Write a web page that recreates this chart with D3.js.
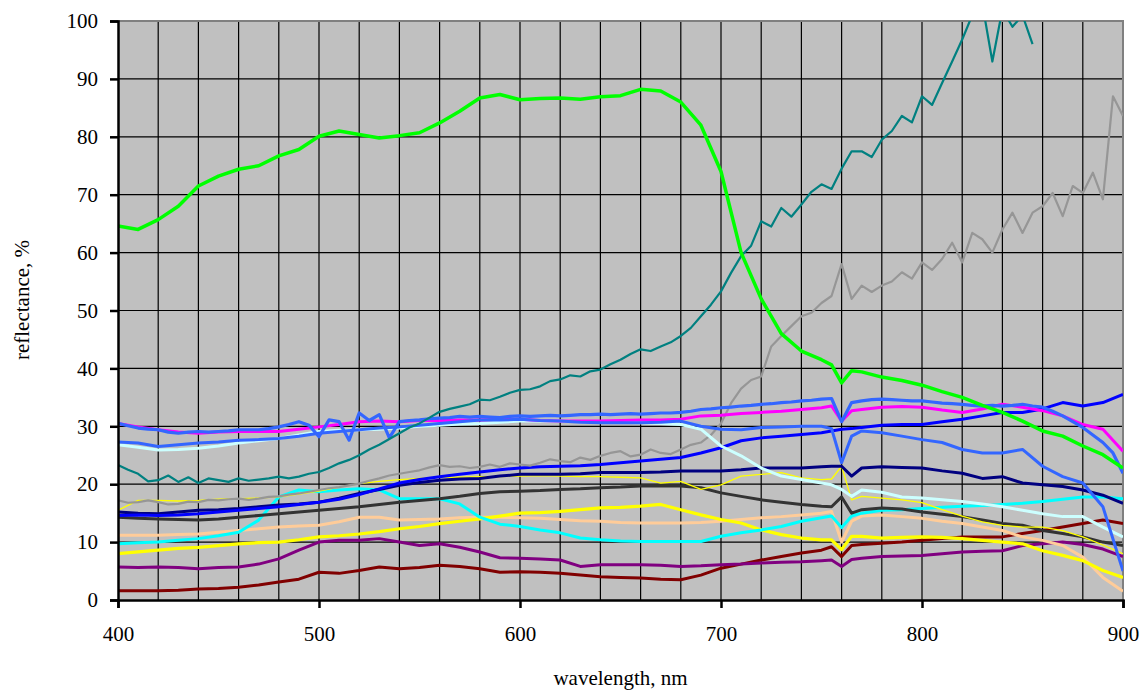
<!DOCTYPE html>
<html>
<head>
<meta charset="utf-8">
<script src="https://cdn.jsdelivr.net/npm/d3@7"></script>
<style>
  body { margin: 0; background: #fff; }
  text { font-family: "Liberation Serif", "Times New Roman", serif; fill: #000; }
</style>
</head>
<body>
<div id="chart"></div>
<script>
// wavelength grids (nm)
const wlMain = [400,410,420,430,440,450,460,470,480,490,500,510,520,530,540,550,560,570,580,590,
  600,610,620,630,640,650,660,670,680,690,700,710,720,730,740,750,755,760,765,
  770,780,790,800,810,820,830,840,850,860,870,880,890,900];
const wlFine = d3.range(400, 901, 5);

const xTicks = [400, 500, 600, 700, 800, 900];
const yTicks = [0, 10, 20, 30, 40, 50, 60, 70, 80, 90, 100];

// reflectance, %
const lime = [64.6,64,65.7,68,71.5,73.2,74.4,75,76.7,77.8,80.1,81,80.4,79.8,80.2,80.7,82.4,84.4,86.7,87.3,
  86.4,86.6,86.7,86.5,86.9,87.1,88.2,87.9,86,82,74,60,52,46,43,41.5,40.6,37.5,39.6,
  39.4,38.5,37.9,37.1,36,35,33.6,32.4,30.9,29.2,28.3,26.6,25.1,22.8];

const magenta = [30.5,29.9,29.4,29,28.8,29,29.1,29.1,29.1,29.5,29.9,30.3,30.8,30.9,30.8,31,31,31.1,31.1,31.2,
  31.2,31,30.9,30.9,30.9,31,31.1,31.1,31.2,31.8,31.9,32.2,32.4,32.6,32.9,33.2,33.5,30.9,32.7,
  32.9,33.3,33.4,33.3,32.8,32.4,33,33.8,33.3,32.7,31.8,30.3,29.5,25.7];

const royalB = [27.3,27.1,26.5,26.8,27.1,27.3,27.6,27.7,27.9,28.3,28.8,29.1,29.4,29.7,29.9,30.2,30.5,30.8,31.1,31.1,
  31.2,31,30.9,30.7,30.6,30.6,30.6,30.7,30.9,30,29.5,29.4,29.8,29.9,30,30,29.6,23.7,28.3,
  29.2,28.9,28.3,27.7,27.2,26,25.4,25.4,26,23.1,21.3,20.2,16.1,5];

const lightCyan = [26.8,26.4,25.9,26,26.2,26.6,27.1,27.5,27.9,28.5,29.1,29.3,29.4,29.5,29.7,30,30.2,30.4,30.5,30.7,
  30.9,30.9,30.9,30.8,30.7,30.7,30.6,30.5,30.3,29.5,26.6,24.9,22.8,21.4,20.8,20.2,19.9,19.1,17.9,
  19,18.6,17.8,17.6,17.3,17,16.6,16.1,15.5,14.9,14.4,14.4,12.6,10.9];

const blue = [14.6,14.7,14.6,14.7,14.9,15.2,15.5,15.8,16.1,16.5,16.9,17.4,18.2,19.2,20.2,20.8,21.3,21.7,22.1,22.5,
  22.8,23,23.1,23.2,23.4,23.7,24,24.3,24.6,25.4,26.3,27.5,28,28.3,28.6,28.9,29.2,29.5,29.6,
  29.8,30.2,30.3,30.3,30.8,31.2,31.8,32.4,32.4,33,34.1,33.5,34.1,35.5];

const navy = [15.2,15,14.9,15.2,15.5,15.6,15.8,16.1,16.4,16.6,16.9,17.6,18.4,19.1,19.8,20.3,20.7,20.9,21,21.4,
  21.7,21.7,21.7,21.8,22,22,22,22.1,22.3,22.3,22.3,22.5,22.8,22.8,22.8,23,23.1,23.1,21.4,
  22.8,23,22.9,22.8,22.3,21.9,21,21.3,20.2,19.9,19.6,19,18.1,16.7];

const darkGray = [14.3,14.1,14,13.9,13.8,14,14.3,14.6,14.9,15.2,15.5,15.8,16.1,16.5,16.9,17.2,17.5,17.9,18.4,18.7,
  18.8,18.9,19.1,19.2,19.4,19.5,19.7,19.7,19.7,19.4,18.5,17.9,17.3,16.9,16.5,16.2,16.1,17.8,15,
  15.6,15.9,15.7,15.2,14.8,14.4,13.8,13.2,12.9,12,11.5,10.9,10,9.4];

const cyan = [9.7,9.9,10,10.3,10.6,11.1,11.7,13.8,17.8,19,18.7,19,19.2,19,17.5,17.5,17.5,16.6,14.3,13.1,
  12.7,12.1,11.6,10.7,10.4,10.2,10.1,10.1,10.1,10.1,11,11.6,12.1,12.7,13.6,14.2,14.5,12.5,14.5,
  15,15.5,15.6,15.8,16,16.2,16.3,16.5,16.7,17,17.4,17.8,17.8,17.5];

const peach = [11.2,11.2,11.2,11.3,11.4,11.7,12,12.3,12.6,12.8,12.9,13.5,14.3,14.3,13.8,13.9,14,14.2,14.3,14.3,
  14.2,14.1,13.9,13.7,13.6,13.4,13.3,13.3,13.3,13.4,13.6,13.9,14.2,14.4,14.7,15,15.3,10,13.6,
  14.5,14.7,14.4,14.1,13.6,13.2,12.6,12,10.9,10.3,9.4,7.4,3.9,1.5];

const yellow = [8,8.3,8.6,8.9,9.1,9.4,9.7,9.9,10,10.4,10.9,11.1,11.4,11.8,12.3,12.7,13.2,13.6,14,14.5,
  15,15.1,15.3,15.6,15.9,16,16.2,16.5,15.6,14.7,13.9,13.3,12.1,11.3,10.7,10.4,10.4,8.7,11,
  11,10.7,10.8,10.9,10.8,10.6,10.3,10,9.7,8.5,7.7,6.8,5.1,3.9];

const yellowThin = [15.5,17.2,17.2,17.1,17.2,17.4,17.5,17.6,17.8,18.3,18.8,19.5,20.1,20.5,20.8,21,21.2,21.2,21.3,21.3,
  21.4,21.5,21.4,21.3,21.3,21.2,21.1,20.2,20.5,19.1,19.9,21.4,21.7,22,21.1,20.8,20.9,23.1,17.3,
  17.9,17.6,17.3,16.8,15.6,14.5,13.5,12.9,12.6,12.6,12,10.9,9.5,8];

const purple = [5.7,5.6,5.7,5.6,5.4,5.6,5.7,6.2,7.1,8.6,10,10.3,10.3,10.6,10,9.4,9.7,9.1,8.3,7.3,
  7.2,7.1,6.9,5.8,6.1,6.1,6.1,6,5.8,5.9,6.1,6.2,6.4,6.5,6.6,6.8,6.9,5.8,7,
  7.2,7.5,7.6,7.7,8,8.3,8.4,8.5,9.4,9.7,10,9.6,8.8,7.5];

const darkRed = [1.6,1.6,1.6,1.7,1.9,2,2.2,2.6,3.1,3.6,4.8,4.6,5.1,5.7,5.4,5.6,6,5.8,5.4,4.8,
  4.9,4.8,4.6,4.3,4,3.9,3.8,3.6,3.5,4.3,5.5,6.2,6.9,7.5,8.1,8.6,9.2,7.5,9.4,
  9.6,9.8,10,10.3,10.6,10.9,10.9,10.9,11.5,12,12.6,13.2,13.8,13.2];

// 5 nm series
const royalA = [30.5,30.1,29.7,29.5,29.4,29,28.8,29,29.1,29,29.1,29.2,29.4,29.4,29.4,29.6,29.9,30.3,30.8,30.2,
  28.2,31.1,30.8,27.6,32.3,31,32,28,30.8,31,31.1,31.3,31.4,31.5,31.7,31.6,31.7,31.6,31.5,31.7,
  31.8,31.7,31.8,31.9,31.8,31.9,32,32,32.1,32,32.1,32.2,32.1,32.2,32.3,32.3,32.4,32.6,32.9,33,
  33.2,33.3,33.5,33.6,33.8,33.9,34.1,34.2,34.4,34.5,34.7,34.8,30.8,34.1,34.4,34.6,34.7,34.6,34.5,34.4,
  34.4,34.2,34,33.9,33.8,33.6,33.5,33.6,33.5,33.6,33.8,33.5,33.3,32.6,31.8,30.8,29.8,28.5,27.2,25.4,21.9];

const teal = [23.3,22.5,21.8,20.5,20.7,21.5,20.4,21.2,20.2,21,20.7,20.4,21,20.6,20.8,21,21.3,21,21.3,21.8,
  22.1,22.8,23.6,24.2,25,26,26.8,27.8,28.8,29.8,30.5,31.5,32.5,33,33.4,33.8,34.6,34.5,35.1,35.8,
  36.3,36.4,36.9,37.8,38.1,38.8,38.6,39.5,39.8,40.7,41.5,42.5,43.3,43,43.8,44.5,45.6,47,49,51,
  53.3,56.5,59.4,61.2,65.4,64.5,67.7,66.2,68.3,70.5,71.8,71,74.5,77.5,77.5,76.5,79.5,81,83.6,82.5,
  87,85.5,89.3,93,96.8,101,103,93,102,99,101,96];

const gray = [17.2,16.8,16.9,17.2,16.9,16.5,16.6,17,16.9,17.3,17.2,17.4,17.5,17.3,17.5,17.8,17.9,18.2,18.4,18.7,
  19,19.3,19.5,19.8,20.1,20.6,21,21.5,21.8,22.1,22.4,22.9,23.3,23,23.1,22.8,23,23.4,23,23.6,
  23.4,23.2,23.7,24.3,24,23.8,24.6,24.2,24.9,25.4,25.7,24.8,25.1,26,25.4,25.2,26,26.8,27.2,28.5,
  30.5,34,36.5,38,38.6,43.8,45.6,47.3,49,49.6,51.3,52.5,58,52,54.3,53.2,54.3,55,56.6,55.5,
  58.3,57,58.9,61.7,58.3,63.4,62.3,60,64,66.9,63.4,66.9,68,70.3,66.3,71.5,70.3,73.8,69.2,87,83.6];

const W = 1145, H = 691;
const margin = {top: 21, right: 22, bottom: 91, left: 118};
const width = W - margin.left - margin.right;
const height = H - margin.top - margin.bottom;
const serif = '"Liberation Serif", "Times New Roman", serif';

const svg = d3.select('#chart').append('svg')
    .attr('width', W).attr('height', H);

const g = svg.append('g')
    .attr('transform', `translate(${margin.left},${margin.top})`);

const x = d3.scaleLinear().domain([400, 900]).range([0, width]);
const y = d3.scaleLinear().domain([0, 100]).range([height, 0]);

// plot area
g.append('rect')
    .attr('width', width).attr('height', height)
    .attr('fill', '#c0c0c0');

// grid
g.append('g')
    .selectAll('line')
    .data(d3.range(420, 900, 20))
    .join('line')
    .attr('x1', d => x(d)).attr('x2', d => x(d))
    .attr('y1', 0).attr('y2', height)
    .attr('stroke', '#000').attr('stroke-width', 1.2);
g.append('g')
    .selectAll('line')
    .data(yTicks.slice(1, -1))
    .join('line')
    .attr('x1', 0).attr('x2', width)
    .attr('y1', d => y(d)).attr('y2', d => y(d))
    .attr('stroke', '#000').attr('stroke-width', 1.2);

// border top/right
g.append('path')
    .attr('d', `M0,0H${width}V${height}`)
    .attr('fill', 'none').attr('stroke', '#808080').attr('stroke-width', 2);

g.append('clipPath').attr('id', 'clip')
  .append('rect').attr('width', width).attr('height', height);

const series = [
  {wl: wlMain, v: darkRed, color: '#800000', w: 3},
  {wl: wlMain, v: purple, color: '#800080', w: 3},
  {wl: wlMain, v: peach, color: '#ffcc99', w: 3},
  {wl: wlMain, v: yellow, color: '#ffff00', w: 3.2},
  {wl: wlMain, v: cyan, color: '#00ffff', w: 3},
  {wl: wlMain, v: darkGray, color: '#333333', w: 3},
  {wl: wlMain, v: yellowThin, color: '#ffff00', w: 1.3},
  {wl: wlMain, v: navy, color: '#000080', w: 3},
  {wl: wlMain, v: blue, color: '#0000ff', w: 3},
  {wl: wlFine, v: gray, color: '#969696', w: 2.2},
  {wl: wlMain, v: lightCyan, color: '#ccffff', w: 3},
  {wl: wlMain, v: magenta, color: '#ff00ff', w: 3},
  {wl: wlMain, v: royalB, color: '#3366ff', w: 3},
  {wl: wlFine, v: royalA, color: '#3366ff', w: 3.2},
  {wl: wlFine, v: teal, color: '#008080', w: 2.2},
  {wl: wlMain, v: lime, color: '#00ff00', w: 3.5}
];

const line = d3.line()
    .x(d => x(d[0]))
    .y(d => y(d[1]));

g.append('g').attr('clip-path', 'url(#clip)')
  .selectAll('path')
  .data(series)
  .join('path')
  .attr('d', s => line(s.v.map((v, i) => [s.wl[i], v])))
  .attr('fill', 'none')
  .attr('stroke', s => s.color)
  .attr('stroke-width', s => s.w)
  .attr('stroke-linejoin', 'round');

// axes
const yAxis = d3.axisLeft(y).tickValues(yTicks).tickSize(8).tickPadding(12);
const xAxis = d3.axisBottom(x).tickValues(xTicks).tickSize(8).tickPadding(18);

const gy = g.append('g').call(yAxis);
const gx = g.append('g').attr('transform', `translate(0,${height})`).call(xAxis);

[gy, gx].forEach(a => {
  a.attr('font-family', serif).attr('font-size', 21);
  a.select('.domain').attr('stroke', '#000').attr('stroke-width', 2.5);
  a.selectAll('.tick line').attr('stroke', '#000').attr('stroke-width', 2.5);
  a.selectAll('text').attr('font-family', serif).attr('font-size', 21);
});

svg.append('text')
    .attr('x', margin.left + width / 2).attr('y', 685)
    .attr('text-anchor', 'middle')
    .attr('font-family', serif)
    .attr('font-size', 21)
    .text('wavelength, nm');

svg.append('text')
    .attr('transform', 'translate(29,300) rotate(-90)')
    .attr('text-anchor', 'middle')
    .attr('font-family', serif)
    .attr('font-size', 21)
    .text('reflectance, %');
</script>
</body>
</html>
